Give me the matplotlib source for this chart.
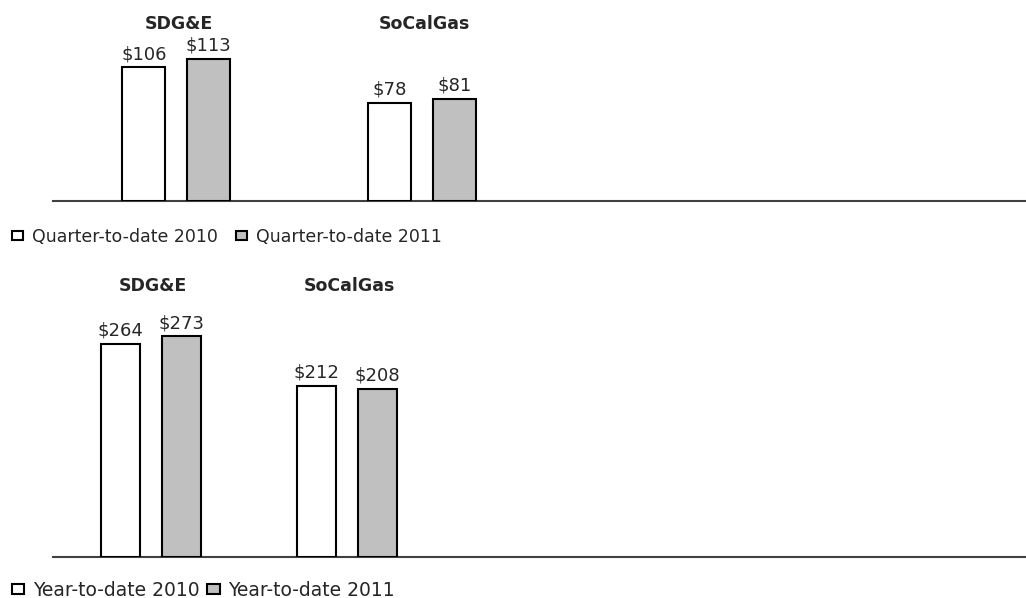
import matplotlib
matplotlib.use("Agg")
import matplotlib.pyplot as plt
from matplotlib.patches import Patch
from matplotlib.transforms import blended_transform_factory

plt.rcParams['font.family'] = ['DejaVu Sans']

companies = ["SDG&E", "SoCalGas"]
qtd_2010 = [106, 78]
qtd_2011 = [113, 81]
ytd_2010 = [264, 212]
ytd_2011 = [273, 208]
qtd_labels = ["Quarter-to-date 2010", "Quarter-to-date 2011"]
ytd_labels = ["Year-to-date 2010", "Year-to-date 2011"]

W, H = 1026, 598
fig = plt.figure(figsize=(W / 100, H / 100), dpi=100)

TEXT = '#262626'
GRAY = '#c0c0c0'


def panel(top_px, base_px, cat_w, ppu, v1, v2, labels, legend_y, title_y, bar_w, off,
          leg_fs, leg_pad, leg_col):
    left = 53
    ax = fig.add_axes([left / W, (H - base_px) / H, (W - left) / W, (base_px - top_px) / H])
    ncat = (W - left) / cat_w
    ax.set_xlim(-0.5, -0.5 + ncat)
    ax.set_ylim(0, (base_px - top_px) / ppu)
    x = list(range(len(companies)))
    b1 = ax.bar([i - off for i in x], v1, width=bar_w, facecolor='white',
                edgecolor='black', linewidth=1.5, zorder=3)
    b2 = ax.bar([i + off for i in x], v2, width=bar_w, facecolor=GRAY,
                edgecolor='black', linewidth=1.5, zorder=3)
    for bars, vals in ((b1, v1), (b2, v2)):
        for r, v in zip(bars, vals):
            ax.annotate(f"${v}", (r.get_x() + r.get_width() / 2, v),
                        xytext=(0, 3), textcoords='offset points',
                        ha='center', va='bottom', fontsize=13, color=TEXT)
    for spine in ('top', 'right', 'left'):
        ax.spines[spine].set_visible(False)
    ax.spines['bottom'].set_color('#404040')
    ax.spines['bottom'].set_linewidth(1.5)
    ax.set_xticks([])
    ax.set_yticks([])
    ax.patch.set_visible(False)
    tr = blended_transform_factory(ax.transData, fig.transFigure)
    for i, c in enumerate(companies):
        ax.text(i + 0.01, (H - title_y) / H, c, transform=tr, ha='center', va='center',
                fontsize=12.5, fontweight='bold', color=TEXT)
    handles = [Patch(facecolor='white', edgecolor='black', linewidth=1.5),
               Patch(facecolor=GRAY, edgecolor='black', linewidth=1.5)]
    fig.legend(handles, labels, loc='center left',
               bbox_to_anchor=(12 / W, (H - legend_y) / H), ncol=2, frameon=False,
               fontsize=leg_fs, handlelength=0.66, handleheight=0.44,
               handletextpad=leg_pad, columnspacing=leg_col,
               borderaxespad=0, borderpad=0, labelcolor=TEXT)
    return ax


panel(0, 201, 246, 1.26, qtd_2010, qtd_2011, qtd_labels, 237, 24, 0.175, 0.131,
      12.5, 0.52, 1.0)
panel(270, 557, 196, 0.808, ytd_2010, ytd_2011, ytd_labels, 590, 286, 0.202, 0.156,
      13.5, 0.45, 0.42)

fig.savefig("out.png", dpi=100)
